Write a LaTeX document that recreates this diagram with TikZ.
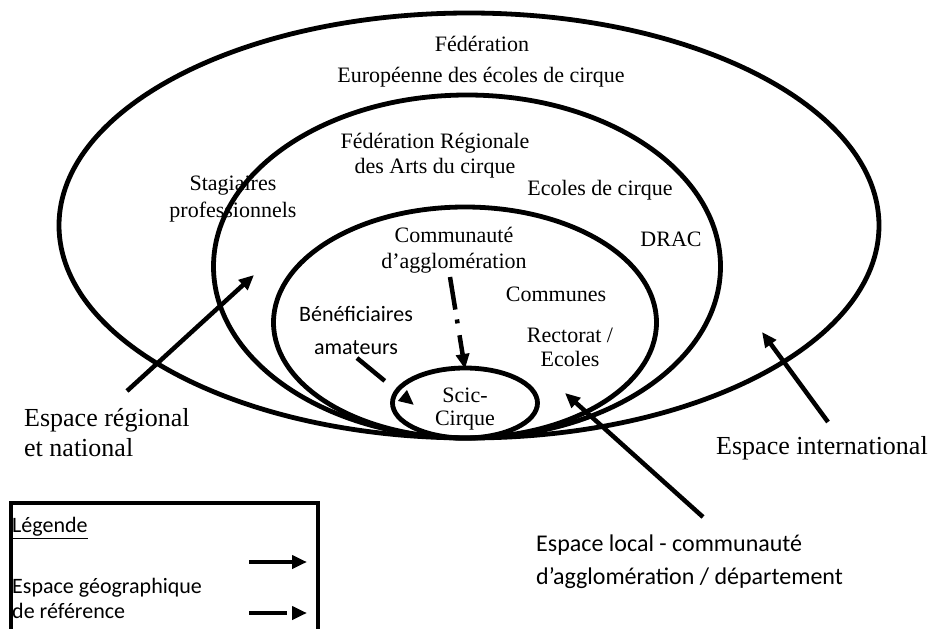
\documentclass[tikz,border=0pt]{standalone}
\usepackage{fontspec}
\setmainfont{Liberation Serif}
\newfontfamily\calib{Carlito}
\usetikzlibrary{arrows.meta}
\begin{document}
\begin{tikzpicture}[x=1pt,y=-1pt,
  ring/.style={line width=4.8pt},
  tm/.style={font=\fontsize{22}{25}\selectfont, align=center, inner sep=0pt},
  big/.style={font=\fontsize{26}{30}\selectfont, align=left, inner sep=0pt},
  cb/.style={font=\calib\fontsize{22}{33}\selectfont, align=center, inner sep=0pt},
  arr/.style={line width=4.5pt, -{Triangle[length=15pt,width=13pt]}}
]
\useasboundingbox (0,0) rectangle (935,629);
\clip (0,0) rectangle (935,629);
% rings
\draw[ring] (469,225.5) ellipse [x radius=410, y radius=212.5];
\draw[ring] (467,266.5) ellipse [x radius=253.5, y radius=171.5];
\draw[ring] (465,322.5) ellipse [x radius=191.5, y radius=115.5];
\draw[ring] (465,403) ellipse [x radius=72.5, y radius=35];
% texts
\node[tm] (fed) at (482,44) {Fédération};
\node[tm] (feu) at (481,77) {Européenne des écoles de cirque};
\node[tm] (frc) at (435,156) {Fédération Régionale\\des Arts du cirque};
\node[tm] (edc) at (600,190) {Ecoles de cirque};
\node[tm, font=\fontsize{22}{27}\selectfont] (stg) at (233,199) {Stagiaires\\professionnels};
\node[tm] (drac) at (671,239) {DRAC};
\node[tm, font=\fontsize{22}{26}\selectfont] (comm) at (454,250) {Communauté\\d’agglomération};
\node[tm] (cmn) at (556,294) {Communes};
\node[tm, font=\fontsize{22}{24}\selectfont] (rect) at (570,347) {Rectorat /\\Ecoles};
\node[cb] (ben) at (356,330) {Bénéficiaires\\amateurs};
\node[tm, font=\fontsize{22}{23}\selectfont] (scic) at (465,409) {Scic-\\Cirque};
\node[big, anchor=west] (reg) at (24,433) {Espace régional\\et national};
\node[big, anchor=west] (intl) at (716,448) {Espace international};
\node[cb, font=\calib\fontsize{24}{33}\selectfont, align=left, anchor=west] (loc) at (536,562) {Espace local - communauté\\d’agglomération / département};
% arrows
\coordinate (r1) at (127,391); \coordinate (r2) at (254,275);
\coordinate (l1) at (703,517); \coordinate (l2) at (565,393);
\coordinate (i1) at (828,422); \coordinate (i2) at (762,332);
\coordinate (c1) at (450,277); \coordinate (c2) at (465,369);
\coordinate (b1) at (357,358); \coordinate (b2) at (414,405);
\draw[arr] (r1) -- (r2);
\draw[arr] (l1) -- (l2);
\draw[arr] (i1) -- (i2);
\draw[arr, dash pattern=on 33pt off 10pt on 4pt off 12pt] (c1) -- (c2);
\draw[arr, dash pattern=on 36pt off 40pt] (b1) -- (b2);
% legend
\draw[line width=4pt] (11,640) -- (11,503) -- (318,503) -- (318,640);
\node[cb, font=\calib\fontsize{22}{25}\selectfont, anchor=west] (lg) at (12,528) {\underline{Légende}};
\node[cb, font=\calib\fontsize{22}{25}\selectfont, align=left, anchor=west] (lgt) at (12,598) {Espace géographique\\de référence};
\coordinate (s1) at (249,562); \coordinate (s2) at (307,562);
\coordinate (d1) at (249,613); \coordinate (d2) at (307,613);
\draw[arr] (s1) -- (s2);
\draw[arr, dash pattern=on 38pt off 30pt] (d1) -- (d2);
\end{tikzpicture}
\end{document}
